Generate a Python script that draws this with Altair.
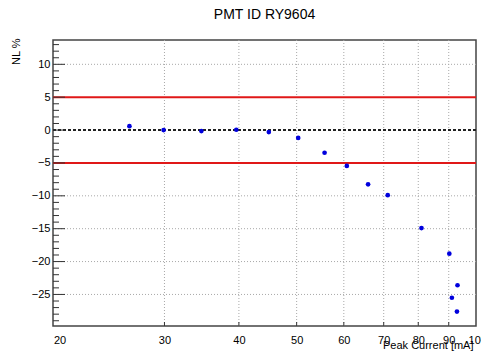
import altair as alt
import pandas as pd

# data
peak_current = [26.2, 29.9, 34.6, 39.6, 44.9, 50.3, 55.7, 60.7, 65.9, 71.1, 81.0, 90.2, 93.1, 91.1, 92.9]
nl_percent = [0.6, 0.0, -0.15, 0.05, -0.3, -1.2, -3.45, -5.45, -8.25, -9.9, -14.9, -18.8, -23.6, -25.5, -27.6]

x_ticks = [20, 30, 40, 50, 60, 70, 80, 90, 100]
x_grid = [30, 40, 50, 60, 70, 80, 90]
y_ticks = [-25, -20, -15, -10, -5, 0, 5, 10]
y_minor = [v for v in range(-29, 14) if v % 5 != 0]
limit_lines = [5, -5]
zero_line = [0]

X_DOMAIN = [19.5, 100]
Y_DOMAIN = [-29.8, 13.7]
W, H = 423, 286
FONT = "Liberation Sans"

pts = pd.DataFrame({"x": peak_current, "y": nl_percent})

xs = alt.Scale(type="log", domain=X_DOMAIN, nice=False, zero=False)
ys = alt.Scale(domain=Y_DOMAIN, nice=False, zero=False)

x_axis = alt.Axis(
    values=x_ticks, format="d",
    labelExpr="datum.value == 100 ? '10²' : datum.label",
    grid=False, ticks=False, domain=False,
    labelFont=FONT, labelFontSize=11, labelColor="black", labelPadding=8,
    labelFlush=False, labelOverlap=False,
    title="Peak Current [mA]", titleFont=FONT, titleFontSize=11, titleFontWeight="normal",
    titleColor="black", titleAlign="right", titleAnchor="end",
    titleX=420, titleY=19, titleBaseline="middle",
)
y_axis = alt.Axis(
    values=y_ticks, grid=False, ticks=False, domain=False,
    labelFont=FONT, labelFontSize=11, labelColor="black", labelPadding=3,
    title="NL %", titleFont=FONT, titleFontSize=11, titleFontWeight="normal",
    titleColor="black", titleAngle=270, titleAlign="right", titleAnchor="end",
    titleX=-37, titleY=-2, titleBaseline="middle",
)

grid_x = alt.Chart(pd.DataFrame({"x": x_grid})).mark_rule(
    color="#a8a8a8", strokeWidth=1, strokeDash=[1, 2]
).encode(x=alt.X("x:Q", scale=xs, axis=x_axis))

grid_y = alt.Chart(pd.DataFrame({"y": [v for v in y_ticks if v not in (0, 5, -5)]})).mark_rule(
    color="#a8a8a8", strokeWidth=1, strokeDash=[1, 2]
).encode(y=alt.Y("y:Q", scale=ys, axis=y_axis))

red = alt.Chart(pd.DataFrame({"y": limit_lines})).mark_rule(
    color="#e01818", strokeWidth=2
).encode(y=alt.Y("y:Q", scale=ys))

zero = alt.Chart(pd.DataFrame({"y": zero_line})).mark_rule(
    color="#222222", strokeWidth=2, strokeDash=[3, 2]
).encode(y=alt.Y("y:Q", scale=ys))

ymaj = alt.Chart(pd.DataFrame({"y": y_ticks})).mark_rule(
    color="#333333", strokeWidth=1
).encode(y=alt.Y("y:Q", scale=ys), x=alt.value(0), x2=alt.value(12))

ymin = alt.Chart(pd.DataFrame({"y": y_minor})).mark_rule(
    color="#333333", strokeWidth=1
).encode(y=alt.Y("y:Q", scale=ys), x=alt.value(0), x2=alt.value(6))

xtk = alt.Chart(pd.DataFrame({"x": x_ticks[1:-1]})).mark_rule(
    color="#333333", strokeWidth=1
).encode(x=alt.X("x:Q", scale=xs), y=alt.value(H), y2=alt.value(H - 4))

points = alt.Chart(pts).mark_circle(
    color="#0000dd", opacity=1, size=22
).encode(x=alt.X("x:Q", scale=xs), y=alt.Y("y:Q", scale=ys))

chart = alt.layer(grid_x, grid_y, red, zero, ymaj, ymin, xtk, points).properties(
    width=W, height=H,
    autosize=alt.AutoSizeParams(type="none"),
    padding={"left": 53, "top": 40, "right": 5, "bottom": 27},
    title=alt.TitleParams("PMT ID RY9604", font=FONT, fontSize=14, fontWeight="normal",
                          color="black", anchor="middle", offset=16),
    background="white",
).configure_view(stroke="#444444", strokeWidth=1.5)

chart.save("out.html", embed_options={"renderer": "svg", "actions": False})
